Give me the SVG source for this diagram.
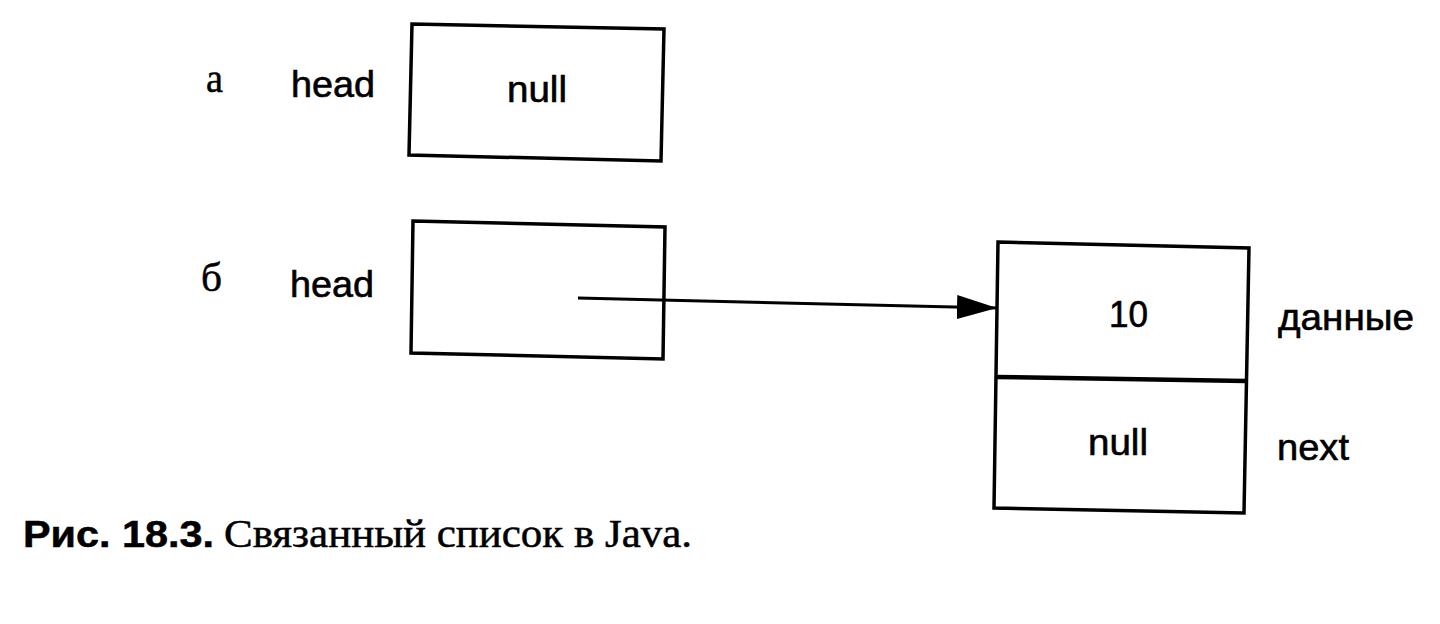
<svg xmlns="http://www.w3.org/2000/svg" width="1440" height="624" viewBox="0 0 1440 624">
<defs>
<style>
.box{fill:none;stroke:#000;stroke-width:3.5}
.div{fill:none;stroke:#000;stroke-width:4.5}
.conn{fill:none;stroke:#000;stroke-width:3}
.s{font-family:"Liberation Sans",Arial,sans-serif;font-size:36px;fill:#000;stroke:#000;stroke-width:0.6}
.sr{font-family:"Liberation Serif","Times New Roman",serif;font-size:40px;fill:#000;stroke:#000;stroke-width:0.5}
.cb{font-family:"Liberation Sans",Arial,sans-serif;font-size:36px;font-weight:bold;fill:#000;stroke:#000;stroke-width:0.5}
</style>
<marker id="arrow" markerUnits="userSpaceOnUse" markerWidth="42" markerHeight="26" refX="40" refY="12" orient="auto">
<path d="M0,0 L40,12 L0,24 z" fill="#000"/>
</marker>
</defs>
<rect width="1440" height="624" fill="#fff"/>
<g id="label-a">
<text class="sr" x="206" y="92" textLength="17" lengthAdjust="spacingAndGlyphs">а</text>
<text class="s" x="291" y="97" textLength="84" lengthAdjust="spacingAndGlyphs">head</text>
</g>
<g id="box-a">
<polygon class="box" points="412,24 664,29 661,161 409,155"/>
<text class="s" x="507" y="102" textLength="60" lengthAdjust="spacingAndGlyphs">null</text>
</g>
<g id="label-b">
<text class="sr" x="201" y="291" textLength="21" lengthAdjust="spacingAndGlyphs">б</text>
<text class="s" x="290" y="297" textLength="84" lengthAdjust="spacingAndGlyphs">head</text>
</g>
<g id="box-b">
<polygon class="box" points="413,221 665,227 663,359 411,353"/>
</g>
<g id="node">
<polygon class="box" points="998,242 1249,248 1244,513 994,508"/>
<line class="div" x1="996" y1="377" x2="1246" y2="381"/>
<text class="s" x="1109" y="327" textLength="39" lengthAdjust="spacingAndGlyphs">10</text>
<text class="s" x="1088" y="455" textLength="60" lengthAdjust="spacingAndGlyphs">null</text>
</g>
<g id="node-labels">
<text class="s" x="1278" y="330" textLength="136" lengthAdjust="spacingAndGlyphs">данные</text>
<text class="s" x="1277" y="460" textLength="72" lengthAdjust="spacingAndGlyphs">next</text>
</g>
<g id="connectors">
<line class="conn" x1="578" y1="298" x2="997" y2="308" marker-end="url(#arrow)"/>
</g>
<g id="caption">
<text class="cb" x="23" y="547" textLength="191" lengthAdjust="spacingAndGlyphs">Рис. 18.3.</text>
<text class="sr" x="224" y="547" textLength="468" lengthAdjust="spacingAndGlyphs">Связанный список в Java.</text>
</g>
</svg>
